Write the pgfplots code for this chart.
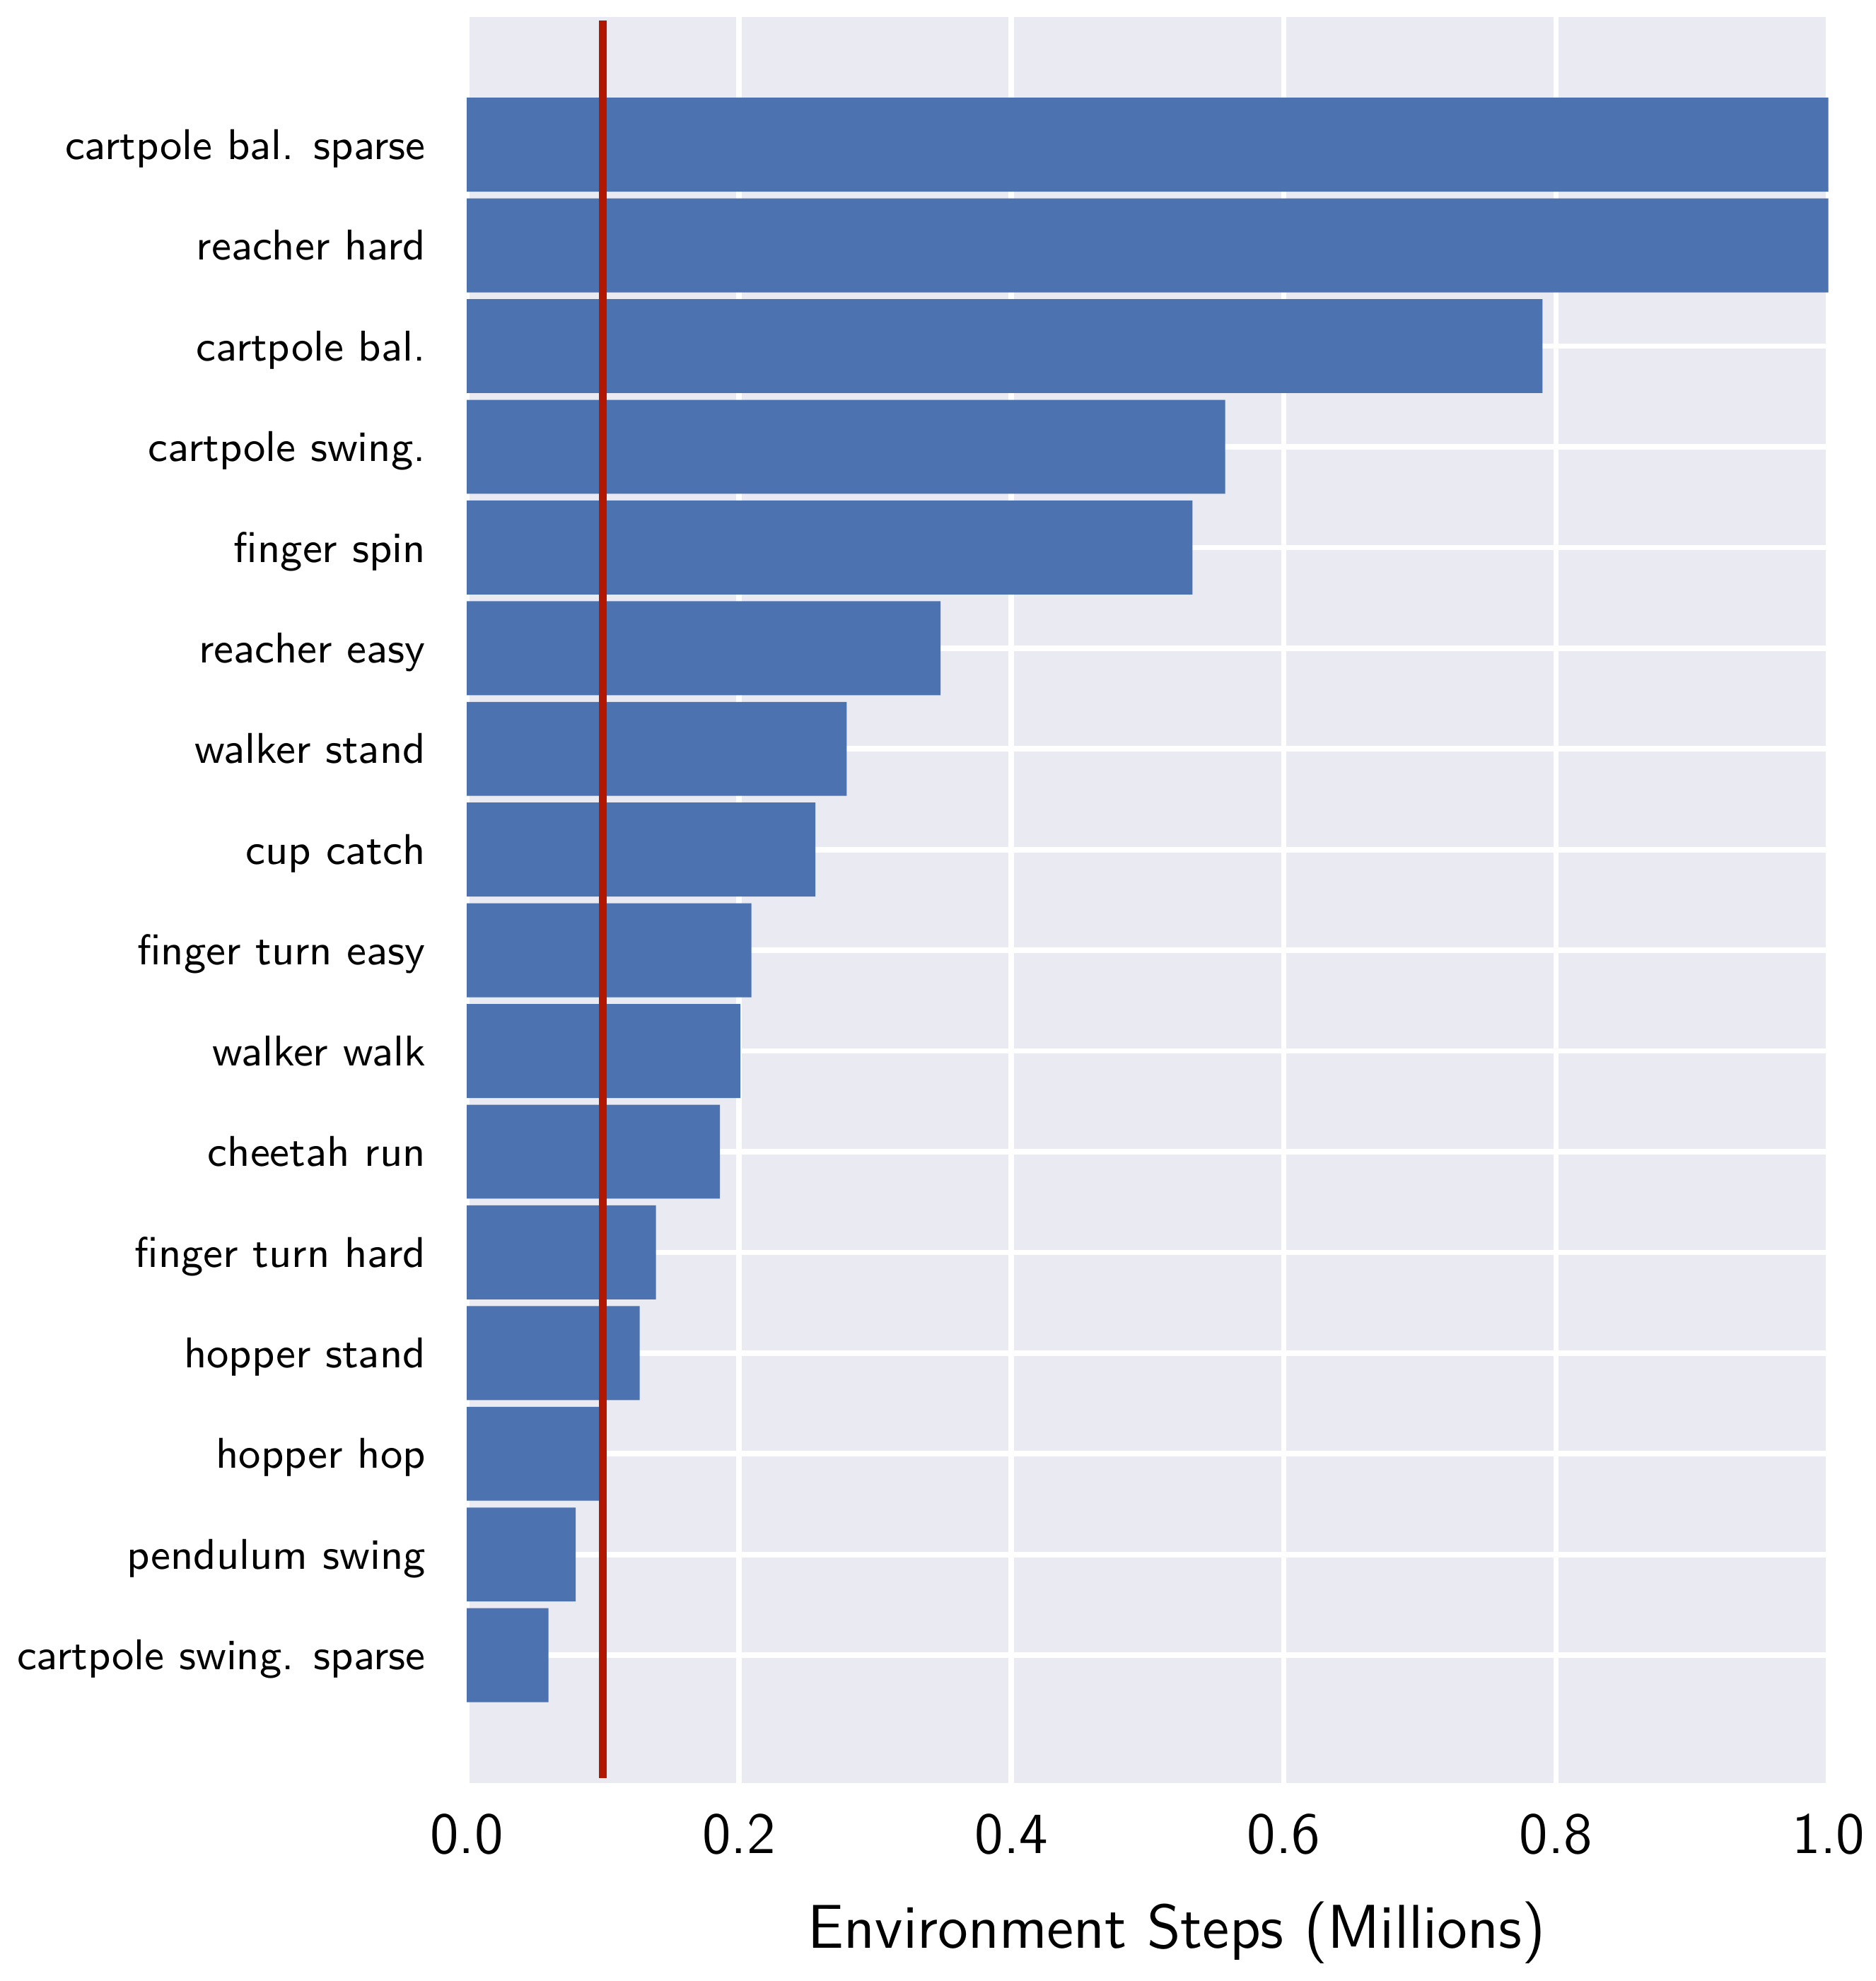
\documentclass[border=0pt]{standalone}
\usepackage{fontspec}
\usepackage{pgfplots}
\pgfplotsset{compat=1.18}
\definecolor{barblue}{HTML}{4C72B0}
\definecolor{bggray}{HTML}{EAEAF2}
\definecolor{refred}{RGB}{178,24,0}

\begin{document}
\begin{tikzpicture}
\useasboundingbox (-94.3pt,-40pt) rectangle (284.7pt,360.3pt);
\begin{axis}[
    at={(0,0)}, anchor=south west,
    scale only axis,
    width=275.1pt, height=356.9pt,
    xmin=0, xmax=1,
    ymin=-1.27, ymax=16.27,
    y dir=reverse,
    bar width=0.933,
    axis background/.style={fill=bggray},
    axis line style={draw=none},
    major tick length=0pt,
    grid=major,
    grid style={white, line width=1.1pt},
    xtick={0,0.2,0.4,0.6,0.8,1.0},
    /pgf/number format/fixed,
    /pgf/number format/fixed zerofill,
    /pgf/number format/precision=1,
    /pgf/number format/assume math mode=true,
    xticklabel style={font=\sffamily\fontsize{11.8}{14}\selectfont, yshift=-2.7pt},
    ytick={0,...,15},
    yticklabels={cartpole bal. sparse, reacher hard, cartpole bal., cartpole swing., finger spin, reacher easy, walker stand, cup catch, finger turn easy, walker walk, cheetah run, finger turn hard, hopper stand, hopper hop, pendulum swing, cartpole swing. sparse},
    yticklabel style={font=\sffamily\fontsize{8.7}{10.5}\selectfont, text height=0.69em, text depth=0.1em, xshift=-4.8pt},
    xlabel={Environment Steps (Millions)},
    xlabel style={font=\sffamily\fontsize{12.5}{15}\selectfont, at={(axis description cs:0.5,0)}, anchor=base, yshift=-33.3pt, xshift=5.9pt},
]

% steps to reach the threshold, one bar per task
\addplot[xbar, fill=barblue, draw=none] coordinates {
    (1.000,0)
    (1.000,1)
    (0.790,2)
    (0.557,3)
    (0.533,4)
    (0.348,5)
    (0.279,6)
    (0.256,7)
    (0.209,8)
    (0.201,9)
    (0.186,10)
    (0.139,11)
    (0.127,12)
    (0.100,13)
    (0.080,14)
    (0.060,15)
};

% reference line at 0.1M steps
\addplot[refred, line width=1.6pt, no marks] coordinates {
    (0.1,-1.23)
    (0.1,16.22)
};

\end{axis}
\end{tikzpicture}
\end{document}
